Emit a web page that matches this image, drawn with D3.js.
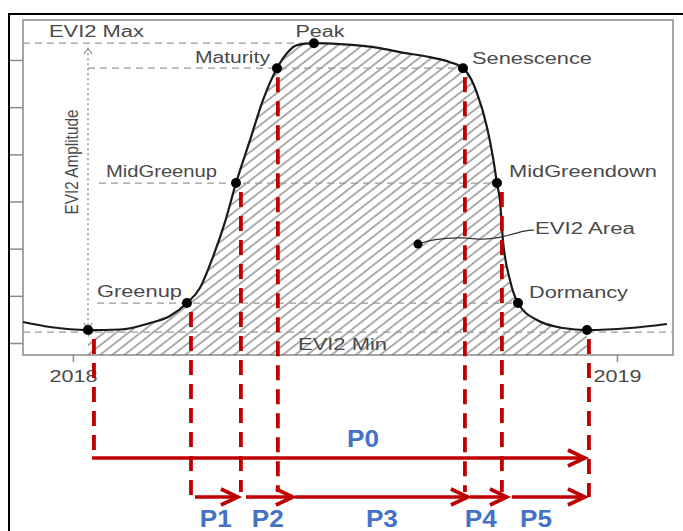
<!DOCTYPE html>
<html><head><meta charset="utf-8">
<script src="https://cdn.jsdelivr.net/npm/d3@7"></script>
<style>
html,body{margin:0;padding:0;background:#fff;}
svg{display:block;font-family:"Liberation Sans",Arial,sans-serif;}
</style></head>
<body>
<svg id="chart" width="683" height="531"></svg>
<script>
// ---------- DATA (days since 2018-01-01, EVI2 values) ----------
const xDomain = [-33.5, 402.6];
const yDomain = [0.0746, 0.7847];
const yTicks = [0.1, 0.2, 0.3, 0.4, 0.5, 0.6, 0.7];
const xTickDays = [0, 365];
const xTickLabels = ["2018", "2019"];

const curveDays = [-33.5, -15.4, 10.1, 31.5, 51.7, 65.1, 76.5, 85.2, 93.9, 102, 109.4, 118.8, 127.5, 136.9, 143.6, 150.3, 161.7, 179.1, 206, 219.4, 239.5, 253, 261.7, 266.4, 271.1, 277.8, 281.8, 284.5, 286.5, 288.5, 293.2, 298.6, 311.3, 328.8, 344.9, 373.7, 398.5];
const curveEVI  = [0.1445, 0.1339, 0.1275, 0.1286, 0.1424, 0.1572, 0.1847, 0.2165, 0.2822, 0.3564, 0.439, 0.530, 0.6148, 0.6826, 0.7144, 0.7314, 0.7356, 0.7335, 0.725, 0.7165, 0.7059, 0.6953, 0.6826, 0.6636, 0.6297, 0.5576, 0.4941, 0.439, 0.4017, 0.3182, 0.2335, 0.1847, 0.1487, 0.1318, 0.1275, 0.1318, 0.1403];

const pointNames = ["Min1", "Greenup", "MidGreenup", "Maturity", "Peak", "Senescence", "MidGreendown", "Dormancy", "Min2"];
const pointDays  = [10.1, 76.5, 109.4, 136.9, 161.7, 261.7, 284.5, 298.6, 344.9];
const pointEVI   = [0.1275, 0.1847, 0.439, 0.6826, 0.7356, 0.6826, 0.439, 0.1847, 0.1275];

const levelNames = ["EVI2 Max", "Maturity", "MidGreenup", "Greenup", "EVI2 Min"];
const levelEVI   = [0.7356, 0.6826, 0.439, 0.1847, 0.123];

const areaLeaderDays = [231.5, 241.5, 261.7, 275.1, 288.5, 304.6, 309.3];
const areaLeaderEVI  = [0.3097, 0.3203, 0.3246, 0.3182, 0.3246, 0.3394, 0.3394];

const phaseLineDays = [14.1, 79.2, 112.7, 137.5, 263.0, 287.8, 346.2];
const periodNames  = ["P0", "P1", "P2", "P3", "P4", "P5"];
const periodStart  = [14.1, 81.9, 116.1, 149.0, 266.4, 294.5];
const periodEnd    = [343.5, 110.7, 147.6, 265.0, 291.2, 343.5];
const periodLabelDay = [194.6, 95.9, 130.8, 207.3, 273.7, 310.7];

// ---------- LAYOUT ----------
const svg = d3.select("#chart");
const P = {left: 23, right: 673, top: 20, bottom: 355};
const x = d3.scaleLinear().domain(xDomain).range([P.left, P.right]);
const y = d3.scaleLinear().domain(yDomain).range([P.bottom, P.top]);
const txt = "#4a4a4a", grid = "#9a9a9a", red = "#c00000", blue = "#4472c4";

// outer frame
svg.append("line").attr("x1", 9).attr("x2", 683).attr("y1", 14).attr("y2", 14).attr("stroke", "#000").attr("stroke-width", 2);
svg.append("line").attr("x1", 9).attr("x2", 9).attr("y1", 13).attr("y2", 531).attr("stroke", "#000").attr("stroke-width", 2);

// hatch pattern
const defs = svg.append("defs");
const pat = defs.append("pattern").attr("id", "hatch").attr("patternUnits", "userSpaceOnUse")
  .attr("width", 10).attr("height", 7.5).attr("patternTransform", "rotate(-38)");
pat.append("line").attr("x1", 0).attr("x2", 10).attr("y1", 3.75).attr("y2", 3.75).attr("stroke", "#6a6a6a").attr("stroke-width", 1.1);
defs.append("clipPath").attr("id", "hclip").append("rect")
  .attr("x", x(pointDays[0])).attr("y", P.top).attr("width", x(pointDays[8]) - x(pointDays[0])).attr("height", P.bottom - P.top);

// plot box
svg.append("rect").attr("x", P.left).attr("y", P.top).attr("width", P.right - P.left).attr("height", P.bottom - P.top)
  .attr("fill", "#fff").attr("stroke", "#8a8a8a").attr("stroke-width", 1.5);

// axes
const yAx = svg.append("g").attr("transform", `translate(${P.left},0)`)
  .call(d3.axisLeft(y).tickValues(yTicks).tickSize(13).tickFormat(""));
yAx.select(".domain").remove();
yAx.selectAll("line").attr("stroke", "#8a8a8a").attr("stroke-width", 1.5);

const xAx = svg.append("g").attr("transform", `translate(0,${P.bottom})`)
  .call(d3.axisBottom(x).tickValues(xTickDays).tickSize(7).tickFormat((d, i) => xTickLabels[i]));
xAx.select(".domain").remove();
xAx.selectAll("line").attr("stroke", "#8a8a8a").attr("stroke-width", 1.5);
xAx.selectAll("text").attr("y", 16).attr("fill", txt).attr("font-size", 16)
  .attr("font-family", "Liberation Sans, Arial, sans-serif")
  .attr("textLength", 48).attr("lengthAdjust", "spacingAndGlyphs");

// hatched area
const curveData = curveDays.map((d, i) => [d, curveEVI[i]]);
const area = d3.area().x(d => x(d[0])).y0(P.bottom).y1(d => y(d[1])).curve(d3.curveMonotoneX);
svg.append("path").datum(curveData).attr("d", area).attr("fill", "url(#hatch)").attr("clip-path", "url(#hclip)");

// gray dashed levels
const levelX = [
  [P.left, x(pointDays[4])],
  [88, x(pointDays[5])],
  [99, x(pointDays[6])],
  [97, x(pointDays[7])],
  [P.left, P.right]
];
levelEVI.forEach((v, i) => {
  svg.append("line").attr("x1", levelX[i][0]).attr("x2", levelX[i][1]).attr("y1", y(v)).attr("y2", y(v))
    .attr("stroke", grid).attr("stroke-width", 1.3).attr("stroke-dasharray", "7,5");
});

// amplitude dotted arrow
const ax = 88;
const aTop = y(levelEVI[0]) + 5, aBot = y(levelEVI[4]) - 3;
svg.append("line").attr("x1", ax).attr("x2", ax).attr("y1", aTop).attr("y2", aBot)
  .attr("stroke", grid).attr("stroke-width", 1.6).attr("stroke-dasharray", "2,3");
svg.append("path").attr("d", `M${ax - 4},${aTop + 6}L${ax},${aTop}L${ax + 4},${aTop + 6}`).attr("fill", "none").attr("stroke", grid).attr("stroke-width", 1.3);
svg.append("path").attr("d", `M${ax - 4},${aBot - 6}L${ax},${aBot}L${ax + 4},${aBot - 6}`).attr("fill", "none").attr("stroke", grid).attr("stroke-width", 1.3);
svg.append("text").attr("transform", `translate(78,162) rotate(-90) scale(1,1.3)`)
  .attr("text-anchor", "middle").attr("fill", txt).attr("font-size", 14).attr("textLength", 105)
  .attr("lengthAdjust", "spacingAndGlyphs").text("EVI2 Amplitude");

// curve
const line = d3.line().x(d => x(d[0])).y(d => y(d[1])).curve(d3.curveMonotoneX);
svg.append("path").datum(curveData).attr("d", line).attr("fill", "none").attr("stroke", "#1a1a1a").attr("stroke-width", 2.2);

// area leader
const leader = areaLeaderDays.map((d, i) => [d, areaLeaderEVI[i]]);
svg.append("path").datum(leader).attr("d", d3.line().x(d => x(d[0])).y(d => y(d[1])).curve(d3.curveBasis))
  .attr("fill", "none").attr("stroke", "#333").attr("stroke-width", 1.3);
svg.append("circle").attr("cx", x(leader[0][0])).attr("cy", y(leader[0][1])).attr("r", 4.5).attr("fill", "#000");

// red dashed phase lines
const P0y = 458, Ly = 497;
phaseLineDays.forEach((d, i) => {
  const topV = pointEVI[[0, 1, 2, 3, 5, 6, 8][i]];
  const y1 = y(topV) + 9;
  const y2 = i === 0 ? P0y : (i === 1 || i === 6 ? Ly : 492);
  svg.append("line").attr("x1", x(d)).attr("x2", x(d)).attr("y1", y1).attr("y2", y2)
    .attr("stroke", red).attr("stroke-width", 3.8).attr("stroke-dasharray", "15,9");
});

// points
svg.selectAll("circle.pt").data(pointDays).join("circle").attr("class", "pt")
  .attr("cx", d => x(d)).attr("cy", (d, i) => y(pointEVI[i])).attr("r", 5).attr("fill", "#000");

// labels
const labels = [
  {t: "EVI2 Max", x: 49, y: y(levelEVI[0]) - 6, w: 95, a: "start"},
  {t: "Peak", x: x(pointDays[4]) + 6, y: y(pointEVI[4]) - 6, w: 49, a: "middle"},
  {t: "Maturity", x: x(pointDays[3]) - 7, y: y(pointEVI[3]) - 5, w: 75, a: "end"},
  {t: "Senescence", x: x(pointDays[5]) + 9, y: y(pointEVI[5]) - 4, w: 120, a: "start"},
  {t: "MidGreenup", x: x(pointDays[2]) - 19, y: y(pointEVI[2]) - 6, w: 111, a: "end"},
  {t: "MidGreendown", x: x(pointDays[6]) + 12, y: y(pointEVI[6]) - 6, w: 148, a: "start"},
  {t: "EVI2 Area", x: x(leader[leader.length - 1][0]) + 1, y: y(leader[leader.length - 1][1]) + 4, w: 100, a: "start"},
  {t: "Greenup", x: x(pointDays[1]) - 5, y: y(pointEVI[1]) - 6, w: 85, a: "end"},
  {t: "Dormancy", x: x(pointDays[7]) + 11, y: y(pointEVI[7]) - 5, w: 99, a: "start"},
  {t: "EVI2 Min", x: 298, y: 350, w: 89, a: "start"}
];
labels.forEach(l => {
  svg.append("text").attr("x", l.x).attr("y", l.y).attr("text-anchor", l.a).attr("fill", txt)
    .attr("font-size", 16).attr("textLength", l.w).attr("lengthAdjust", "spacingAndGlyphs").text(l.t);
});

// period arrows
function arrow(x1, x2, yy) {
  svg.append("line").attr("x1", x1).attr("x2", x2 - 2).attr("y1", yy).attr("y2", yy).attr("stroke", red).attr("stroke-width", 3.6);
  svg.append("path").attr("d", `M${x2 - 17},${yy - 8}L${x2},${yy}L${x2 - 17},${yy + 8}`)
    .attr("fill", "none").attr("stroke", red).attr("stroke-width", 3.6).attr("stroke-linejoin", "miter");
}
periodNames.forEach((n, i) => {
  const yy = i === 0 ? P0y : Ly;
  arrow(x(periodStart[i]) - (i === 0 ? 1.9 : 0), x(periodEnd[i]), yy);
  svg.append("text").attr("x", x(periodLabelDay[i])).attr("y", i === 0 ? 447 : 527).attr("text-anchor", "middle")
    .attr("fill", blue).attr("font-weight", "bold").attr("font-size", 23)
    .attr("textLength", 32).attr("lengthAdjust", "spacingAndGlyphs").text(n);
});
</script>
</body></html>
